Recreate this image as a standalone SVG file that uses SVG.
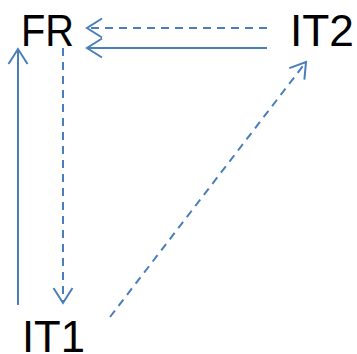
<svg xmlns="http://www.w3.org/2000/svg" width="357" height="354" viewBox="0 0 357 354">
<style>
.lbl{font-family:"Liberation Sans",Arial,sans-serif;font-size:45px;fill:#000}
.c{fill:none;stroke:#4a7ebb;stroke-width:2}
.d{stroke-dasharray:8,6}
</style>
<defs>
<marker id="ah" markerUnits="userSpaceOnUse" markerWidth="20" markerHeight="24" viewBox="-17 -12 20 24" refX="0" refY="0" orient="auto">
<path d="M-15,-9.5 L0,0 L-15,9.5" fill="none" stroke="#4a7ebb" stroke-width="2"/>
</marker>
</defs>
<rect width="357" height="354" fill="#fff"/>
<g id="FR"><text class="lbl" x="21" y="46" textLength="53" lengthAdjust="spacingAndGlyphs">FR</text></g>
<g id="IT2"><text class="lbl" x="290" y="46" textLength="64" lengthAdjust="spacingAndGlyphs">IT2</text></g>
<g id="IT1"><text class="lbl" x="22" y="352" textLength="63" lengthAdjust="spacingAndGlyphs">IT1</text></g>
<g id="connectors">
<line class="c d" x1="267" y1="28" x2="87" y2="28" marker-end="url(#ah)"/>
<line class="c" x1="267" y1="48" x2="87" y2="48" marker-end="url(#ah)"/>
<line class="c d" x1="63" y1="48" x2="63" y2="303" marker-end="url(#ah)"/>
<line class="c" x1="18" y1="305" x2="18" y2="49" marker-end="url(#ah)"/>
<line class="c d" x1="110" y1="317" x2="306" y2="62" marker-end="url(#ah)"/>
</g>
</svg>
